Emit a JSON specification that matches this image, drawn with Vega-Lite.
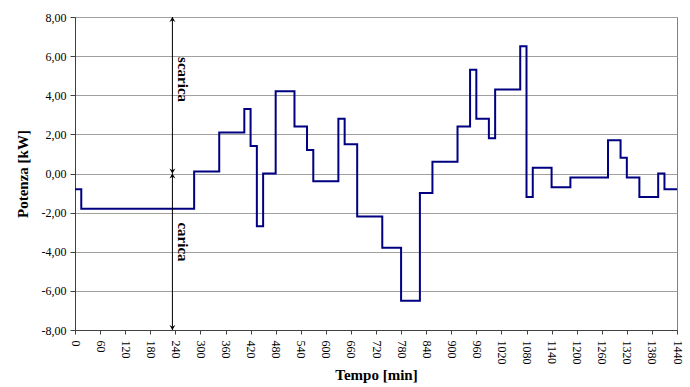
{
  "$schema": "https://vega.github.io/schema/vega-lite/v6.json",
  "width": 602,
  "height": 313,
  "autosize": "none",
  "padding": {"left": 75, "top": 17, "right": 13, "bottom": 57},
  "background": "white",
  "config": {
    "font": "Liberation Serif",
    "view": {"stroke": "#808080", "strokeWidth": 1},
    "axis": {
      "labelFont": "Liberation Serif",
      "labelFontSize": 12,
      "labelColor": "#000",
      "titleFont": "Liberation Serif",
      "titleFontSize": 15,
      "titleFontWeight": "bold",
      "titleColor": "#000",
      "domainColor": "#404040",
      "tickColor": "#404040",
      "labelOverlap": false
    },
    "axisX": {
      "format": "d",
      "labelAngle": 90,
      "labelAlign": "left",
      "labelBaseline": "middle",
      "labelPadding": 6,
      "tickSize": 4,
      "grid": false,
      "labelFlush": false,
      "titlePadding": 3
    },
    "axisY": {
      "labelExpr": "replace(replace(format(datum.value, '.2f'), '.', ','), '\u2212', '-')",
      "grid": true,
      "gridColor": "#a0a0a0",
      "gridWidth": 1,
      "tickSize": 5,
      "labelPadding": 4,
      "titlePadding": 11
    }
  },
  "datasets": {
    "power": [
      {"t": 0, "p": -0.8}, {"t": 15, "p": -1.8}, {"t": 285, "p": 0.1}, {"t": 345, "p": 2.1},
      {"t": 405, "p": 3.3}, {"t": 420, "p": 1.4}, {"t": 435, "p": -2.7}, {"t": 450, "p": 0.0},
      {"t": 480, "p": 4.2}, {"t": 525, "p": 2.4}, {"t": 555, "p": 1.2}, {"t": 570, "p": -0.4},
      {"t": 630, "p": 2.8}, {"t": 645, "p": 1.5}, {"t": 675, "p": -2.2}, {"t": 735, "p": -3.8},
      {"t": 780, "p": -6.5}, {"t": 825, "p": -1.0}, {"t": 855, "p": 0.6}, {"t": 915, "p": 2.4},
      {"t": 945, "p": 5.3}, {"t": 960, "p": 2.8}, {"t": 990, "p": 1.8}, {"t": 1005, "p": 4.3},
      {"t": 1065, "p": 6.5}, {"t": 1080, "p": -1.2}, {"t": 1095, "p": 0.3}, {"t": 1140, "p": -0.7},
      {"t": 1185, "p": -0.2}, {"t": 1275, "p": 1.7}, {"t": 1305, "p": 0.8}, {"t": 1320, "p": -0.2},
      {"t": 1350, "p": -1.2}, {"t": 1395, "p": 0.0}, {"t": 1410, "p": -0.8}, {"t": 1440, "p": -0.8}
    ],
    "arrows": [
      {"t": 233, "y0": 0, "y1": 8, "label": "scarica", "lt": 258, "ly": 4.8},
      {"t": 233, "y0": -8, "y1": 0, "label": "carica", "lt": 258, "ly": -3.5}
    ]
  },
  "layer": [
    {
      "data": {"name": "power"},
      "mark": {"type": "line", "interpolate": "step-after", "color": "#000080", "strokeWidth": 2},
      "encoding": {
        "x": {
          "field": "t", "type": "quantitative",
          "scale": {"domain": [0, 1440], "nice": false, "zero": false},
          "axis": {"title": "Tempo [min]", "values": [0, 60, 120, 180, 240, 300, 360, 420, 480, 540, 600, 660, 720, 780, 840, 900, 960, 1020, 1080, 1140, 1200, 1260, 1320, 1380, 1440]}
        },
        "y": {
          "field": "p", "type": "quantitative",
          "scale": {"domain": [-8, 8], "nice": false},
          "axis": {"title": "Potenza [kW]", "values": [-8, -6, -4, -2, 0, 2, 4, 6, 8]}
        }
      }
    },
    {
      "data": {"name": "arrows"},
      "mark": {"type": "rule", "color": "#000", "strokeWidth": 1},
      "encoding": {
        "x": {"field": "t", "type": "quantitative", "axis": {"title": "Tempo [min]", "values": [0, 60, 120, 180, 240, 300, 360, 420, 480, 540, 600, 660, 720, 780, 840, 900, 960, 1020, 1080, 1140, 1200, 1260, 1320, 1380, 1440]}},
        "y": {"field": "y0", "type": "quantitative", "axis": {"title": "Potenza [kW]", "values": [-8, -6, -4, -2, 0, 2, 4, 6, 8]}},
        "y2": {"field": "y1"}
      }
    },
    {
      "data": {"name": "arrows"},
      "mark": {"type": "point", "shape": "M0,0L-1,1.7L0,1.1L1,1.7Z", "filled": true, "fill": "#000", "strokeWidth": 0, "size": 36, "opacity": 1},
      "encoding": {
        "x": {"field": "t", "type": "quantitative", "axis": {"title": "Tempo [min]", "values": [0, 60, 120, 180, 240, 300, 360, 420, 480, 540, 600, 660, 720, 780, 840, 900, 960, 1020, 1080, 1140, 1200, 1260, 1320, 1380, 1440]}},
        "y": {"field": "y1", "type": "quantitative", "axis": {"title": "Potenza [kW]", "values": [-8, -6, -4, -2, 0, 2, 4, 6, 8]}}
      }
    },
    {
      "data": {"name": "arrows"},
      "mark": {"type": "point", "shape": "M0,0L-1,-1.7L0,-1.1L1,-1.7Z", "filled": true, "fill": "#000", "strokeWidth": 0, "size": 36, "opacity": 1},
      "encoding": {
        "x": {"field": "t", "type": "quantitative", "axis": {"title": "Tempo [min]", "values": [0, 60, 120, 180, 240, 300, 360, 420, 480, 540, 600, 660, 720, 780, 840, 900, 960, 1020, 1080, 1140, 1200, 1260, 1320, 1380, 1440]}},
        "y": {"field": "y0", "type": "quantitative", "axis": {"title": "Potenza [kW]", "values": [-8, -6, -4, -2, 0, 2, 4, 6, 8]}}
      }
    },
    {
      "data": {"name": "arrows"},
      "mark": {"type": "text", "angle": 90, "align": "center", "baseline": "middle", "font": "Liberation Serif", "fontSize": 15, "fontWeight": "bold", "color": "#000"},
      "encoding": {
        "x": {"field": "lt", "type": "quantitative", "axis": {"title": "Tempo [min]", "values": [0, 60, 120, 180, 240, 300, 360, 420, 480, 540, 600, 660, 720, 780, 840, 900, 960, 1020, 1080, 1140, 1200, 1260, 1320, 1380, 1440]}},
        "y": {"field": "ly", "type": "quantitative", "axis": {"title": "Potenza [kW]", "values": [-8, -6, -4, -2, 0, 2, 4, 6, 8]}},
        "text": {"field": "label"}
      }
    }
  ]
}
